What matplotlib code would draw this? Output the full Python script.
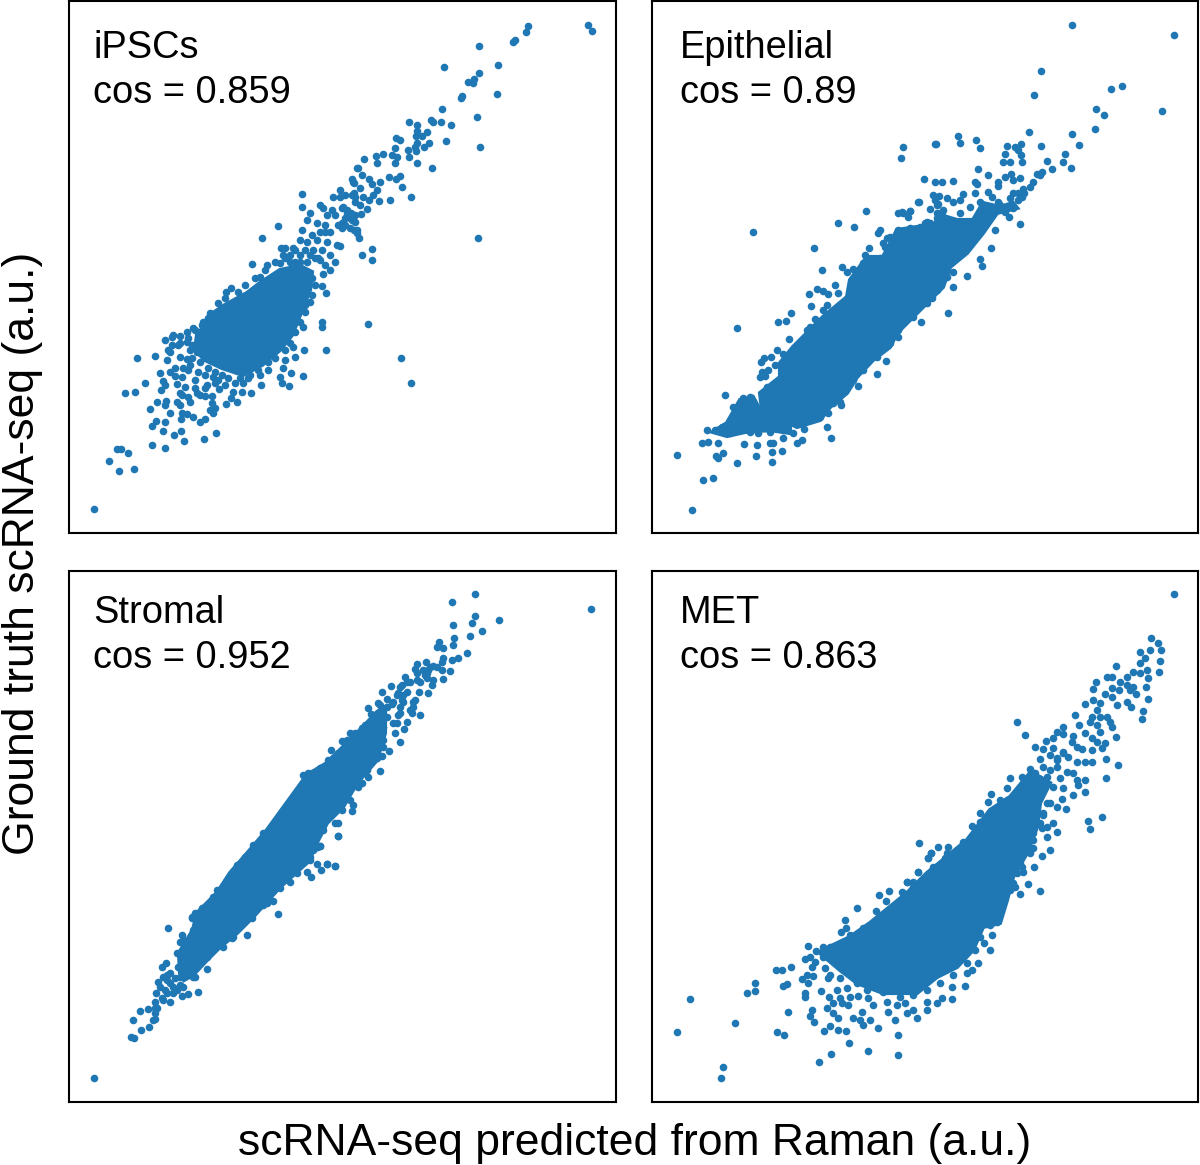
import matplotlib
matplotlib.use('Agg')
import matplotlib.pyplot as plt
import numpy as np

plt.rcParams['font.family'] = ['Liberation Sans', 'DejaVu Sans']

# values, arbitrary units (no ticks in the original)
# y readings are top-down, they get flipped when plotted
names = ['iPSCs', 'Epithelial', 'Stromal', 'MET']
cos_values = ['0.859', '0.89', '0.952', '0.863']

# dense part of each cloud, too many points to read one by one
ipsc_core_x = [260, 247, 225, 213, 205, 197, 195, 205, 222, 243, 262, 280, 292, 300, 310, 312, 300, 280]
ipsc_core_y = [283, 293, 305, 313, 325, 335, 350, 360, 368, 375, 365, 350, 335, 315, 290, 272, 266, 270]
epi_core_x = [760, 780, 780, 793, 807, 823, 847, 850, 867, 883, 897, 917, 933, 940, 957, 973, 983, 1000, 1013, 1017, 997, 983, 967, 950, 943, 917, 897, 890, 873, 857, 847, 830, 820, 797, 783, 763]
epi_core_y = [393, 377, 363, 347, 333, 317, 297, 280, 257, 257, 230, 227, 227, 215, 220, 220, 203, 207, 203, 208, 213, 233, 253, 267, 287, 313, 333, 347, 360, 377, 393, 407, 420, 427, 420, 417]
epi_tail_x = [713, 727, 740, 753, 760, 790, 790, 770, 745, 727]
epi_tail_y = [432, 423, 400, 397, 410, 425, 433, 430, 432, 436]
stromal_core_x = [180, 179, 193, 197, 217, 230, 250, 267, 307, 327, 343, 363, 377, 385, 385, 377, 357, 343, 327, 313, 310, 280, 253, 237, 220, 207, 193, 184]
stromal_core_y = [973, 953, 930, 913, 893, 873, 850, 830, 775, 763, 747, 727, 712, 707, 733, 760, 783, 807, 823, 850, 860, 887, 917, 933, 947, 960, 975, 980]
met_core_x = [823, 850, 870, 907, 927, 943, 967, 990, 1010, 1030, 1040, 1050, 1040, 1037, 1027, 1013, 1007, 1000, 983, 973, 957, 937, 917, 883, 857, 840, 820]
met_core_y = [950, 937, 923, 893, 873, 860, 840, 810, 797, 773, 777, 783, 803, 827, 853, 877, 900, 923, 927, 950, 967, 977, 993, 993, 983, 970, 953]

ipsc_pts = [(94,509),(109,461),(119,471),(134,469),(117,449),(121,449),(128,453),(152,445),(165,448),(163,431),
    (174,435),(181,431),(184,441),(204,439),(216,433),(152,426),(156,421),(165,422),(150,409),(157,402),
    (125,393),(135,392),(145,383),(137,358),(155,356),(160,373),(161,390),(165,385),(163,381),(166,401),
    (165,405),(170,413),(180,393),(177,402),(180,405),(182,413),(187,414),(181,419),(193,417),(200,422),
    (205,419),(212,403),(210,410),(215,408),(213,413),(188,397),(197,393),(195,388),(205,396),(212,396),
    (219,389),(226,404),(231,398),(237,402),(233,392),(242,392),(251,393),(261,385),(243,383),(248,378),
    (207,385),(213,377),(175,376),(182,377),(185,387),(188,370),(195,380),(167,360),(180,357),(187,359),
    (170,352),(172,345),(165,340),(172,337),(180,336),(187,332),(193,328),(187,342),(192,345),(202,325),
    (210,313),(226,292),(231,288),(322,286),(326,293),(310,302),(305,312),(322,322),(322,327),(326,350),
    (304,350),(295,357),(285,360),(283,368),(303,376),(291,373),(280,377),(282,383),(289,386),(268,370),
    (260,375),(303,327),(293,347),(260,277),(323,274),(302,194),(302,207),(278,226),(262,238),(281,248),
    (252,264),(267,265),(280,263),(293,248),(307,242),(317,240),(313,250),(327,242),(337,245),(325,265),
    (302,230),(310,213),(307,220),(317,223),(325,232),(323,208),(333,197),(340,190),(332,210),(343,207),
    (353,182),(357,168),(355,197),(352,220),(338,225),(357,230),(347,213),(588,25),(592,31),(528,26),
    (526,32),(515,40),(513,42),(479,46),(498,65),(444,67),(479,73),(474,79),(468,82),(473,83),
    (497,94),(462,96),(461,98),(442,109),(477,117),(409,122),(431,120),(433,122),(441,122),(451,125),
    (417,125),(417,131),(427,132),(416,136),(422,136),(446,141),(429,143),(480,147),(396,138),(400,140),
    (417,143),(415,147),(424,147),(395,148),(408,150),(416,151),(392,155),(397,157),(383,154),(376,156),
    (364,159),(409,157),(377,163),(395,163),(417,163),(358,168),(432,168),(352,179),(354,183),(369,179),
    (372,184),(380,182),(389,177),(396,179),(400,176),(402,187),(360,188),(354,193),(363,197),(377,190),
    (373,195),(369,200),(379,201),(390,200),(411,197),(355,202),(367,209),(361,214),(347,210),(342,208),
    (351,213),(340,197),(350,218),(355,222),(354,230),(357,233),(359,238),(342,223),(342,228),(478,238),
    (372,249),(362,255),(372,260),(340,246),(368,324),(401,358),(411,383),(330,270),(320,260),(315,258),
    (300,255),(335,262),(307,262),(290,262),
    # lacy part round the core
    (200,345),(205,352),(197,352),(190,350),(192,358),(200,362),(208,368),(215,372),(222,375),(228,378),
    (235,383),(225,385),(215,383),(205,375),(198,372),(190,365),(183,368),(175,368),(170,372),(177,384),
    (182,395),(190,402),(200,395),(205,388),(218,380),(240,378),(250,375),(258,370),(268,362),(275,358),
    (285,350),(290,343),(295,332),(300,322),(305,305),(312,295),(315,285),(312,278),(305,272),(295,262),
    (285,258),(275,262),(265,270),(255,278),(245,285),(238,292),(225,298),(218,303),(208,318),(203,322),
    (195,330),(188,338),(180,343),(173,335),(178,345),(168,350),(320,205),(327,215),(335,215),(345,218),
    (325,225),(330,232),(345,225),(350,228),(355,215),(360,205),(352,195),(345,195),(362,175),(300,262),
    (310,255),(290,255),(283,255),(295,250),(285,248),(305,250),(318,258),(322,250),(330,255),(300,240),
    (312,235),(320,232)]

epi_pts = [(692,510),(703,480),(713,478),(677,455),(737,463),(772,462),(756,456),(772,452),(782,451),(718,458),
    (723,453),(716,456),(757,445),(744,444),(702,443),(708,442),(718,443),(707,430),(715,430),(770,443),
    (773,443),(783,438),(797,443),(802,440),(831,438),(827,427),(804,429),(758,433),(725,395),(733,407),
    (841,405),(840,402),(858,386),(877,374),(886,361),(760,377),(765,376),(768,370),(775,365),(762,372),
    (761,362),(764,358),(771,357),(777,350),(783,354),(789,339),(737,328),(778,322),(786,321),(791,313),
    (807,330),(810,327),(815,319),(811,306),(823,310),(827,305),(809,294),(817,289),(823,291),(828,294),
    (835,285),(838,293),(822,270),(814,248),(753,232),(842,267),(847,272),(853,269),(863,267),(838,223),
    (854,227),(866,211),(869,248),(865,255),(880,230),(878,233),(898,213),(903,213),(910,211),(908,217),
    (887,238),(885,247),(901,158),(903,147),(935,144),(924,179),(935,182),(942,182),(919,202),(930,209),
    (933,195),(939,196),(947,198),(935,200),(937,205),(942,212),(927,222),(940,218),(921,322),(948,313),
    (898,337),(932,298),(923,303),(1072,25),(1174,35),(1041,71),(1122,86),(1111,89),(1034,95),(1096,109),
    (1104,115),(1162,111),(1095,129),(1029,132),(1072,134),(1079,145),(958,136),(976,140),(936,144),(960,143),
    (980,148),(1007,146),(1021,144),(1015,147),(1018,150),(1041,146),(1005,154),(1021,155),(1065,154),(1003,162),
    (1010,162),(1022,162),(1047,161),(1063,162),(1052,169),(1071,168),(978,169),(988,175),(953,181),(975,182),
    (977,184),(998,182),(998,186),(1005,177),(1011,174),(1013,180),(1020,178),(1040,175),(1037,174),(1042,172),
    (1033,182),(1030,187),(1013,193),(1018,193),(1023,189),(1024,193),(1022,197),(1012,205),(1009,217),(1020,224),
    (963,194),(960,200),(975,193),(918,202),(938,204),(953,202),(980,202),(988,192),(992,197),(998,202),
    (983,205),(943,210),(970,207),(910,211),(902,212),(960,213),(937,218),(995,230),(991,248),(980,259),
    (982,266),(953,272),(967,276),(953,287),(925,223),
    # rough edge of the dense band
    (778,387),(782,370),(790,357),(797,347),(803,340),(813,330),(823,322),(833,313),(847,303),(850,290),
    (857,277),(863,263),(880,258),(883,243),(890,237),(898,230),(910,228),(920,227),(930,223),(937,213),
    (945,218),(833,403),(842,390),(853,380),(863,370),(877,357),(890,343),(898,330),(913,317),(927,303),
    (937,290),(947,277),(722,427),(730,420),(740,407),(743,398),(750,397),(753,407),(737,417),(747,417),
    (757,417),(763,393),(767,387),(777,387),(730,433),(717,430),(750,432),(765,428),(770,432),(783,430),
    (793,433),(800,423),(807,420),(820,417),(828,413),(985,215),(975,225),(965,235),(990,207),(1000,205),
    (1005,212),(1013,208),(1018,200),(1010,198)]

stromal_pts = [(94,1078),(134,1038),(131,1037),(141,1030),(149,1027),(133,1020),(155,1019),(153,1020),(140,1011),(148,1009),
    (157,1008),(155,1002),(163,1000),(170,1002),(156,993),(165,990),(173,993),(158,982),(167,980),(167,975),
    (173,987),(182,996),(188,994),(198,992),(180,985),(162,967),(166,963),(207,969),(195,977),(180,942),
    (182,935),(168,928),(192,917),(195,913),(247,935),(232,938),(278,914),(267,903),(273,901),(290,882),
    (311,877),(307,872),(321,870),(327,864),(335,866),(317,864),(313,850),(320,846),(338,836),(591,609),
    (475,594),(452,602),(499,620),(475,616),(472,623),(453,625),(482,631),(470,636),(454,638),(439,642),
    (453,645),(443,648),(437,647),(467,653),(458,658),(452,660),(443,658),(426,662),(417,664),(415,669),
    (417,673),(433,666),(442,670),(428,670),(450,671),(443,679),(425,675),(420,682),(433,680),(432,685),
    (405,677),(410,682),(391,686),(402,685),(398,693),(407,692),(382,692),(419,692),(428,693),(387,699),
    (403,702),(415,700),(413,707),(368,708),(380,705),(392,704),(400,707),(371,714),(412,713),(420,715),
    (398,715),(407,722),(397,723),(365,725),(404,729),(395,733),(350,733),(342,741),(400,742),(331,750),
    (389,751),(333,758),(382,756),(380,771),(368,777),(362,783),(353,805),(352,811),(338,823),(338,836),
    (320,846),(327,864),(335,866),(308,773),(320,770),
    # rough edge of the dense band
    (192,918),(193,930),(183,940),(177,953),(178,967),(202,908),(213,897),(217,890),(230,877),(237,865),
    (245,857),(253,845),(263,833),(193,977),(207,957),(223,947),(233,937),(252,918),(263,905),(280,888),
    (297,873),(310,860),(317,847),(170,983),(177,990),(183,987),(160,987),(163,977),(170,973),(175,978),
    (180,977),(167,993),(162,998),(155,1008),(155,1013),(303,775),(312,773),(320,768),(328,760),(338,753),
    (347,740),(355,733),(362,728),(370,722),(378,703),(387,707),(393,702),(397,695),(400,687),(407,682),
    (417,680),(427,673),(437,667),(442,662),(383,740),(383,747),(377,758),(367,770),(358,787),(350,800),
    (342,810),(335,823),(323,830),(317,847),(310,857),(393,723),(400,713),(410,710),(413,702),(383,727),
    (387,717),(403,695),(402,700),(427,678),(423,670),(430,667)]

met_pts = [(721,1078),(723,1067),(677,1032),(735,1023),(690,999),(747,993),(755,983),(755,991),(777,1032),(784,1035),
    (788,1012),(776,970),(782,970),(791,967),(783,986),(787,984),(808,946),(805,959),(810,957),(816,951),
    (815,962),(812,967),(802,979),(807,975),(808,983),(813,976),(805,993),(805,997),(821,991),(812,1010),
    (810,1016),(814,1022),(827,1008),(824,1031),(830,1026),(838,1030),(846,1031),(849,1043),(831,1054),(819,1062),
    (868,1051),(898,1035),(898,1055),(878,1028),(853,1018),(860,1020),(863,1025),(870,1020),(895,1020),(862,1012),
    (833,1013),(838,1018),(833,1003),(842,1003),(848,1005),(829,997),(840,998),(850,997),(858,996),(837,990),
    (847,988),(840,978),(825,968),(830,975),(828,978),(823,957),(832,958),(868,998),(873,1005),(887,1002),
    (888,1012),(897,1005),(907,1013),(917,1018),(913,1010),(905,1003),(927,1002),(927,1010),(937,1003),(942,998),
    (952,999),(965,986),(952,987),(967,973),(972,970),(978,963),(990,950),(992,935),(984,943),(857,908),
    (845,920),(841,932),(846,928),(876,911),(879,895),(889,891),(886,901),(902,892),(907,882),(918,872),
    (928,858),(931,853),(945,858),(1174,594),(1151,638),(1158,643),(1161,650),(1140,652),(1150,650),(1160,661),
    (1159,672),(1145,658),(1140,663),(1133,672),(1147,670),(1140,673),(1116,666),(1107,677),(1112,677),(1096,682),
    (1127,677),(1120,682),(1127,685),(1133,687),(1130,690),(1148,678),(1136,694),(1146,687),(1112,688),(1119,690),
    (1093,689),(1105,694),(1112,697),(1148,699),(1093,700),(1085,704),(1117,705),(1127,702),(1131,707),(1100,703),
    (1097,710),(1143,711),(1142,719),(1075,715),(1092,717),(1100,717),(1107,717),(1090,722),(1110,722),(1097,725),
    (1112,727),(1017,722),(1079,725),(1063,727),(1057,732),(1025,735),(1063,734),(1100,732),(1085,733),(1092,738),
    (1073,736),(1116,737),(1053,738),(1046,741),(1072,742),(1077,747),(1082,749),(1097,742),(1092,750),(1105,743),
    (1102,748),(1035,747),(1043,749),(1053,748),(1063,752),(1068,757),(1057,758),(1050,755),(1040,759),(1106,759),
    (1077,762),(1085,762),(1092,762),(1118,765),(1043,767),(1050,770),(1057,767),(1030,769),(1035,773),(1067,772),
    (1073,773),(1077,780),(1010,778),(1106,778),(1085,780),(1022,777),(1060,778),(1085,792),(1078,785),(1063,788),
    (1073,795),(991,794),(1007,788),(1023,787),(1053,787),(1043,790),(1062,799),(988,802),(1000,800),(1050,803),
    (1066,809),(1057,807),(980,813),(988,818),(972,826),(980,822),(1088,821),(1102,817),(1090,829),(1043,815),
    (1053,823),(1047,827),(1057,832),(1047,837),(1042,828),(919,843),(938,847),(931,853),(928,858),(948,847),
    (963,842),(947,853),(955,852),(1050,850),(1042,856),(1033,848),(1034,867),(1022,867),(1023,872),(1028,884),
    (1040,891),(1020,894),(918,872),(1013,883),(907,882),(913,882),(903,893),
    # rough edge of the dense part
    (823,947),(843,942),(850,935),(863,928),(880,918),(893,907),(907,900),(913,887),(933,870),(943,863),
    (933,867),(950,857),(963,847),(977,833),(987,823),(993,810),(1007,800),(1017,797),(1023,783),(1033,773),
    (1037,783),(1047,777),(1057,760),(1063,753),(857,983),(867,990),(883,992),(900,997),(913,995),(927,990),
    (940,983),(953,975),(967,963),(975,950),(980,937),(990,925),(997,922),(830,947),(847,950),(853,957),
    (863,957),(843,963),(850,967),(860,967),(1033,833),(1040,823),(1033,840),(1030,853),(1020,863),(1017,873),
    (1010,890),(1015,887),(1043,813),(1047,803)]

blue = '#1f77b4'
W, H = 1200, 1165

panels = [
    (69, 616, 1, 533, ipsc_pts, [(ipsc_core_x, ipsc_core_y)], 58, 103, 24),
    (652, 1198, 1, 533, epi_pts, [(epi_core_x, epi_core_y), (epi_tail_x, epi_tail_y)], 58, 103, 28),
    (69, 616, 571, 1102, stromal_pts, [(stromal_core_x, stromal_core_y)], 623, 668, 24),
    (652, 1198, 571, 1102, met_pts, [(met_core_x, met_core_y)], 623, 668, 28),
]

fig = plt.figure(figsize=(W / 100, H / 100), dpi=100)

for i, (x0, x1, y0, y1, pts, cores, base1, base2, pad) in enumerate(panels):
    ax = fig.add_axes([x0 / W, 1 - y1 / H, (x1 - x0) / W, (y1 - y0) / H])
    pts = np.array(pts)
    for cx, cy in cores:
        ax.fill(cx, H - np.array(cy), color=blue, lw=3)
    ax.scatter(pts[:, 0], H - pts[:, 1], s=30, color=blue, linewidths=0)
    ax.set_xlim(x0, x1)
    ax.set_ylim(H - y1, H - y0)
    ax.set_xticks([])
    ax.set_yticks([])
    for sp in ax.spines.values():
        sp.set_linewidth(1.5)
    ax.text(x0 + pad, H - base1, names[i], fontsize=27.4, va='baseline', color='black')
    ax.text(x0 + pad, H - base2, 'cos = ' + cos_values[i], fontsize=27.4, va='baseline', color='black')

fig.text(635 / W, 1 - 1143 / H, 'scRNA-seq predicted from Raman (a.u.)', fontsize=32, ha='center', va='center')
fig.text(23 / W, 1 - 553 / H, 'Ground truth scRNA-seq (a.u.)', fontsize=32, rotation=90, ha='center', va='center')

fig.savefig('out.png', dpi=100)
